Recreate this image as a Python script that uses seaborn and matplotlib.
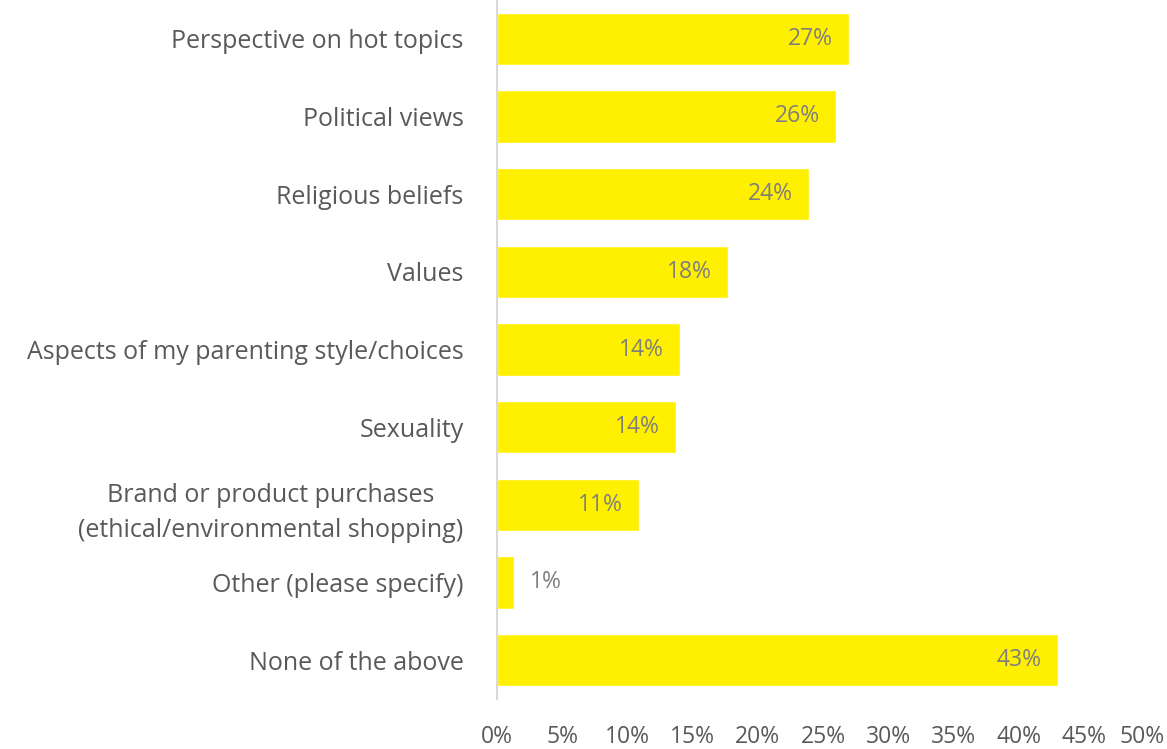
import matplotlib
matplotlib.use("Agg")
import matplotlib.pyplot as plt
import seaborn as sns
import pandas as pd
from matplotlib.transforms import offset_copy, ScaledTranslation

categories = [
    "Perspective on hot topics",
    "Political views",
    "Religious beliefs",
    "Values",
    "Aspects of my parenting style/choices",
    "Sexuality",
    "Brand or product purchases\n(ethical/environmental shopping)",
    "Other (please specify)",
    "None of the above",
]
values = [27.0, 26.0, 23.9, 17.7, 14.0, 13.7, 10.9, 1.3, 43.0]
value_labels = ["27%", "26%", "24%", "18%", "14%", "14%", "11%", "1%", "43%"]
x_ticks = [0, 5, 10, 15, 20, 25, 30, 35, 40, 45, 50]
x_tick_labels = [f"{t}%" for t in x_ticks]

df = pd.DataFrame({"category": categories, "value": values})

sns.set_theme(style="white")
plt.rcParams["font.family"] = ["Open Sans", "DejaVu Sans"]

fig = plt.figure(figsize=(11.67, 7.49), dpi=100)
ax = fig.add_axes([497 / 1167, 1 - 699 / 749, (1149 - 497) / 1167, 699 / 749])

sns.barplot(data=df, x="value", y="category", color="#FFF000", saturation=1,
            width=0.67, ax=ax, orient="h")

ax.set_xlim(0, 50)
ax.set_ylim(8.5, -0.5)
ax.set_xticks(x_ticks)
ax.set_xticklabels(x_tick_labels, fontsize=16.5, color="#595959")
ax.tick_params(axis="x", length=0, pad=19)
ax.tick_params(axis="y", length=0, pad=24)
for lbl in ax.get_yticklabels():
    lbl.set_fontsize(18)
    lbl.set_color("#595959")
    lbl.set_multialignment("center")
    lbl.set_linespacing(1.55)
ax.set_xlabel("")
ax.set_ylabel("")

# keep the last tick label inside the canvas
last = ax.get_xticklabels()[-1]
last.set_transform(last.get_transform() + ScaledTranslation(-7 / 100, 0, fig.dpi_scale_trans))

for s in ["top", "right", "bottom"]:
    ax.spines[s].set_visible(False)
ax.spines["left"].set_color("#D9D9D9")
ax.spines["left"].set_linewidth(1.5)

for i, (v, lab) in enumerate(zip(values, value_labels)):
    if v >= 5:
        tr = offset_copy(ax.transData, fig=fig, x=-16, y=0, units="dots")
        ax.text(v, i, lab, ha="right", va="center", fontsize=16.5, color="#7F7F7F", transform=tr)
    else:
        tr = offset_copy(ax.transData, fig=fig, x=16, y=0, units="dots")
        ax.text(v, i, lab, ha="left", va="center", fontsize=16.5, color="#7F7F7F", transform=tr)

fig.savefig("out.png", dpi=100)
